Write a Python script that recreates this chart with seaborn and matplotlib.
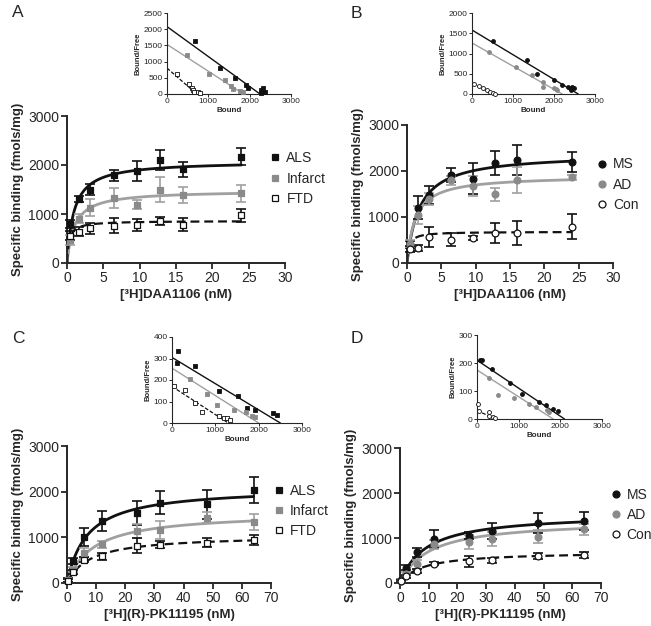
import numpy as np
import pandas as pd
import matplotlib
matplotlib.use("Agg")
import matplotlib.pyplot as plt
import seaborn as sns
from matplotlib.lines import Line2D

# ---------------- data ----------------
# Panel A  ([3H]DAA1106)
a_conc = [0.4, 1.6, 3.2, 6.4, 9.6, 12.8, 16, 24]
a_names = ["ALS", "Infarct", "FTD"]
a_vals = [[800, 1300, 1500, 1790, 1875, 2100, 1915, 2170],
          [470, 905, 1130, 1330, 1190, 1500, 1390, 1420],
          [560, 640, 710, 760, 780, 860, 780, 970]]
a_errs = [[80, 60, 110, 110, 210, 200, 150, 170],
          [100, 90, 180, 200, 90, 260, 160, 170],
          [100, 90, 110, 150, 120, 80, 130, 140]]
a_bmax = [2080, 1480, 860]
a_kd = [0.95, 1.0, 0.3]
a_sc_bound = [[668, 1285, 1651, 1912, 1968, 2278, 2327, 2360, 2270],
              [488, 1017, 1415, 1554, 1590, 1773, 1838],
              [244, 537, 610, 627, 650, 756, 805]]
a_sc_bf = [[1650, 800, 500, 280, 200, 120, 170, 70, 45],
           [1210, 610, 420, 240, 150, 100, 50],
           [630, 318, 198, 120, 60, 48, 30]]
a_sc_int = [2080, 1530, 800]
a_sc_xint = [2250, 1850, 720]

# Panel B  ([3H]DAA1106)
b_conc = [0.4, 1.6, 3.2, 6.4, 9.6, 12.8, 16, 24]
b_names = ["MS", "AD", "Con"]
b_vals = [[400, 1205, 1475, 1910, 1835, 2165, 2240, 2200],
          [420, 1050, 1400, 1800, 1670, 1490, 1800, 1860],
          [300, 330, 565, 510, 545, 650, 660, 785]]
b_errs = [[80, 250, 200, 150, 330, 260, 320, 220],
          [80, 200, 130, 100, 220, 150, 280, 60],
          [60, 60, 220, 150, 50, 220, 260, 270]]
b_bmax = [2380, 1900, 680]
b_kd = [1.8, 1.2, 0.3]
b_sc_bound = [[513, 1353, 1597, 1997, 2200, 2331, 2388, 2445, 2494, 2404],
              [407, 1084, 1475, 1736, 1736, 1997, 2046, 2078],
              [49, 163, 269, 367, 448, 513, 554]]
b_sc_bf = [[1314, 841, 498, 335, 229, 171, 147, 163, 139, 106],
           [1029, 678, 457, 286, 171, 147, 122, 106],
           [253, 204, 147, 90, 49, 24, 8]]
b_sc_int = [1580, 1260, 260]
b_sc_xint = [2590, 2200, 560]

# Panel C  ([3H](R)-PK11195)
c_conc = [0.5, 2, 6, 12, 24, 32, 48, 64]
c_names = ["ALS", "Infarct", "FTD"]
c_vals = [[70, 483, 1010, 1360, 1536, 1756, 1726, 2034],
          [60, 293, 666, 849, 1141, 1156, 1434, 1340],
          [50, 241, 512, 585, 820, 841, 885, 951]]
c_errs = [[40, 60, 200, 220, 270, 250, 320, 290],
          [30, 60, 100, 80, 150, 200, 130, 180],
          [30, 50, 60, 80, 170, 80, 100, 110]]
c_bmax = [2100, 1550, 1050]
c_kd = [7.0, 9.0, 8.0]
c_sc_bound = [[138, 115, 523, 1092, 1515, 1731, 1923, 2331, 2423],
              [423, 808, 1038, 1423, 1715, 1854, 1923],
              [54, 292, 538, 692, 1077, 1192, 1269, 1346]]
c_sc_bf = [[333, 281, 263, 148, 125, 70, 59, 48, 36],
           [205, 133, 86, 59, 52, 31, 28],
           [172, 153, 91, 52, 31, 25, 22, 12]]
c_sc_int = [305, 255, 170]
c_sc_xint = [2500, 2000, 1300]

# Panel D  ([3H](R)-PK11195)
d_conc = [0.5, 2, 6, 12, 24, 32, 48, 64]
d_names = ["MS", "AD", "Con"]
d_vals = [[60, 343, 678, 975, 1050, 1161, 1325, 1385],
          [50, 208, 417, 864, 916, 975, 1028, 1191],
          [40, 150, 268, 432, 484, 506, 596, 618]]
d_errs = [[30, 50, 110, 200, 80, 180, 220, 200],
          [30, 40, 100, 100, 150, 150, 150, 120],
          [20, 30, 40, 30, 120, 60, 70, 70]]
d_bmax = [1550, 1400, 700]
d_kd = [9.0, 10.0, 8.0]
d_sc_bound = [[80, 120, 360, 800, 1080, 1496, 1664, 1824, 1944],
              [280, 512, 896, 1256, 1416, 1680, 1720],
              [16, 56, 280, 296, 376, 424]]
d_sc_bf = [[211, 211, 179, 130, 89, 60, 51, 37, 30],
           [146, 87, 75, 53, 43, 33, 25],
           [53, 27, 24, 9, 6, 4]]
d_sc_int = [210, 175, 30]
d_sc_xint = [2100, 1830, 450]

# ---------------- style ----------------
sns.set_style("ticks")
plt.rcParams['font.family'] = ['Liberation Sans', 'DejaVu Sans']

BLACK = "#111111"
GRAY_M = "#8a8a8a"
GRAY_L = "#a0a0a0"

def series_styles(marker):
    return [dict(face=BLACK, edge=BLACK, ecol=BLACK, lcol=BLACK, ls="-", lw=2.0, marker=marker),
            dict(face=GRAY_M, edge=GRAY_M, ecol=GRAY_L, lcol=GRAY_L, ls="-", lw=2.0, marker=marker),
            dict(face="white", edge=BLACK, ecol=BLACK, lcol=BLACK, ls=(0, (4, 2.2)), lw=1.6, marker=marker)]

fig = plt.figure(figsize=(6.51, 6.26), dpi=100)
W, H = 651.0, 626.0

def px_axes(x0, y0, x1, y1):
    return fig.add_axes([x0 / W, 1 - y1 / H, (x1 - x0) / W, (y1 - y0) / H])

def main_panel(ax, conc, names, vals, errs, bmax, kd, marker, xmax, xstep, xlabel, leg_anchor, msize):
    st = series_styles(marker)
    for i, name in enumerate(names):
        s = st[i]
        xs = np.linspace(0, max(conc), 300)
        fit = pd.DataFrame({"x": xs, "y": bmax[i] * xs / (kd[i] + xs)})
        sns.lineplot(data=fit, x="x", y="y", ax=ax, color=s["lcol"], lw=s["lw"],
                     linestyle=s["ls"], zorder=2)
        ax.errorbar(conc, vals[i], yerr=errs[i], fmt="none", ecolor=s["ecol"],
                    elinewidth=1.2, capsize=3.5, capthick=1.2, zorder=3, clip_on=False)
        df = pd.DataFrame({"x": conc, "y": vals[i]})
        sns.scatterplot(data=df, x="x", y="y", ax=ax, marker=s["marker"], s=msize,
                        color=s["face"], edgecolor=s["edge"], linewidth=0.9,
                        zorder=4, clip_on=False, legend=False)
    ax.set_xlim(0, xmax)
    ax.set_ylim(0, 3000)
    ax.set_xticks(np.arange(0, xmax + 1, xstep))
    ax.set_yticks([0, 1000, 2000, 3000])
    sns.despine(ax=ax)
    for sp in ("left", "bottom"):
        ax.spines[sp].set_linewidth(1.4)
    ax.tick_params(labelsize=10, width=1.3, length=4, pad=1.5)
    ax.set_xlabel(xlabel, fontsize=9.5, fontweight="bold", labelpad=3)
    ax.set_ylabel("Specific binding (fmols/mg)", fontsize=9.5, fontweight="bold", labelpad=3)
    handles = [Line2D([], [], linestyle="none", marker=s["marker"], markersize=5,
                      markerfacecolor=s["face"], markeredgecolor=s["edge"], markeredgewidth=0.9)
               for s in st]
    ax.legend(handles, names, loc="upper left", bbox_to_anchor=leg_anchor, frameon=False,
              fontsize=10, handlelength=0.8, handletextpad=0.4, labelspacing=0.45,
              borderpad=0, borderaxespad=0)

def inset_panel(ax, bound, bf, ints, xints, marker, ymax, ystep):
    st = series_styles(marker)
    for i in range(3):
        s = st[i]
        ln = pd.DataFrame({"x": [0, xints[i]], "y": [ints[i], 0]})
        sns.lineplot(data=ln, x="x", y="y", ax=ax, color=s["lcol"], lw=1.0 if i < 2 else 0.9,
                     linestyle="-" if i < 2 else (0, (3, 1.5)), zorder=2)
        df = pd.DataFrame({"x": bound[i], "y": bf[i]})
        sns.scatterplot(data=df, x="x", y="y", ax=ax, marker=s["marker"], s=8,
                        color=s["face"], edgecolor=s["edge"], linewidth=0.6,
                        zorder=3, clip_on=False, legend=False)
    ax.set_xlim(0, 3000)
    ax.set_ylim(0, ymax)
    ax.set_xticks([0, 1000, 2000, 3000])
    ax.set_yticks(np.arange(0, ymax + 1, ystep))
    sns.despine(ax=ax)
    for sp in ("left", "bottom"):
        ax.spines[sp].set_linewidth(0.8)
    ax.tick_params(labelsize=6, width=0.7, length=2, pad=1)
    ax.set_xlabel("Bound", fontsize=5.8, fontweight="bold", labelpad=1.5)
    ax.set_ylabel("Bound/Free", fontsize=5.5, fontweight="bold", labelpad=1.5)

# main axes
axA = px_axes(67, 116, 285, 263)
axB = px_axes(407, 125, 613, 263)
axC = px_axes(67, 446, 271, 583)
axD = px_axes(400, 448, 601, 583)

main_panel(axA, a_conc, a_names, a_vals, a_errs, a_bmax, a_kd, "s", 30, 5,
           "[³H]DAA1106 (nM)", (0.93, 0.76), 18)
main_panel(axB, b_conc, b_names, b_vals, b_errs, b_bmax, b_kd, "o", 30, 5,
           "[³H]DAA1106 (nM)", (0.92, 0.765), 24)
main_panel(axC, c_conc, c_names, c_vals, c_errs, c_bmax, c_kd, "s", 70, 10,
           "[³H](R)-PK11195 (nM)", (1.01, 0.725), 18)
main_panel(axD, d_conc, d_names, d_vals, d_errs, d_bmax, d_kd, "o", 70, 10,
           "[³H](R)-PK11195 (nM)", (1.045, 0.705), 24)

# insets
iA = px_axes(167, 13, 291, 94)
iB = px_axes(472, 13, 595, 94)
iC = px_axes(172, 337, 302, 423)
iD = px_axes(477, 335, 602, 419)
inset_panel(iA, a_sc_bound, a_sc_bf, a_sc_int, a_sc_xint, "s", 2500, 500)
inset_panel(iB, b_sc_bound, b_sc_bf, b_sc_int, b_sc_xint, "o", 2000, 500)
inset_panel(iC, c_sc_bound, c_sc_bf, c_sc_int, c_sc_xint, "s", 400, 100)
inset_panel(iD, d_sc_bound, d_sc_bf, d_sc_int, d_sc_xint, "o", 300, 100)

# panel letters
for lab, x, y in [("A", 12, 5), ("B", 351, 6), ("C", 12, 331), ("D", 351, 331)]:
    fig.text(x / W, 1 - y / H, lab, fontsize=12.5, ha="left", va="top")

fig.savefig("out.png", dpi=100)
